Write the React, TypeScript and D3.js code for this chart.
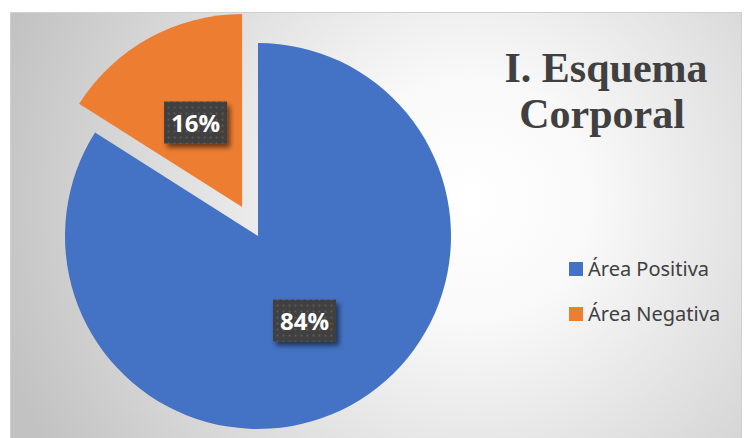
import React from "react";
import * as d3 from "d3";

const categories: string[] = ["Área Positiva", "Área Negativa"];
const values: number[] = [84, 16];
const titleLines: string[] = ["I. Esquema", "Corporal"];

const COLORS = ["#4472C4", "#ED7D31"];
const W = 747;
const H = 438;

if (typeof document !== "undefined") {
  document.body.style.margin = "0";
  document.body.style.overflow = "hidden";
}

export default function App() {
  const cx = 258;
  const cy = 236;
  const r = 193;
  const explodeDist = [0, 33];

  const pieGen = d3
    .pie<number>()
    .sort(null)
    .value((d) => d)
    .startAngle(0)
    .endAngle(2 * Math.PI);
  const arcs = pieGen(values);
  const arcGen = d3.arc<d3.PieArcDatum<number>>().innerRadius(0).outerRadius(r);
  const labelArc = d3.arc<d3.PieArcDatum<number>>().innerRadius(r * 0.5).outerRadius(r * 0.5);
  const total = d3.sum(values);

  const legendY = d3.scalePoint<string>().domain(categories).range([269, 314]);

  return (
    <svg width={W} height={H} style={{ display: "block" }}>
      <defs>
        <radialGradient id="bg" gradientUnits="userSpaceOnUse" cx={470} cy={200} r={490}>
          <stop offset="0" stopColor="#ffffff" />
          <stop offset="0.25" stopColor="#f9f9f9" />
          <stop offset="1" stopColor="#c2c2c2" />
        </radialGradient>
        <pattern id="dots" width={6} height={6} patternUnits="userSpaceOnUse">
          <rect width={6} height={6} fill="#3f3f3f" />
          <rect x={2} y={2} width={2} height={2} fill="#5a5a5a" />
        </pattern>
        <filter id="shadow" x="-30%" y="-30%" width="160%" height="180%">
          <feDropShadow dx={3} dy={4} stdDeviation={2.5} floodColor="#000" floodOpacity={0.55} />
        </filter>
        <clipPath id="chartClip">
          <rect x={10} y={12} width={732} height={430} />
        </clipPath>
      </defs>
      <rect x={0} y={0} width={W} height={H} fill="#ffffff" />
      <rect x={10.5} y={12.5} width={731} height={430} fill="url(#bg)" stroke="#d0d0d0" strokeWidth={1} />
      <g clipPath="url(#chartClip)">
        {arcs.map((a, i) => {
          const mid = (a.startAngle + a.endAngle) / 2;
          const dx = Math.sin(mid) * explodeDist[i];
          const dy = -Math.cos(mid) * explodeDist[i];
          return (
            <g key={categories[i]} transform={`translate(${cx + dx},${cy + dy})`}>
              <path d={arcGen(a) || ""} fill={COLORS[i]} />
            </g>
          );
        })}
        {arcs.map((a, i) => {
          const mid = (a.startAngle + a.endAngle) / 2;
          const dx = Math.sin(mid) * explodeDist[i];
          const dy = -Math.cos(mid) * explodeDist[i];
          const [lx, ly] = labelArc.centroid(a);
          const x = cx + dx + lx;
          const y = cy + dy + ly;
          const bw = 63;
          const bh = 42;
          return (
            <g key={"l" + i} transform={`translate(${x},${y})`}>
              <rect x={-bw / 2} y={-bh / 2} width={bw} height={bh} fill="url(#dots)" filter="url(#shadow)" />
              <text
                x={0}
                y={9}
                textAnchor="middle"
                fill="#ffffff"
                fontFamily="'Open Sans', sans-serif"
                fontWeight={700}
                fontSize={24}
              >
                {Math.round((values[i] / total) * 100) + "%"}
              </text>
            </g>
          );
        })}
      </g>
      <text
        textAnchor="middle"
        fill="#404040"
        fontFamily="'Liberation Serif', 'Times New Roman', serif"
        fontWeight={700}
        fontSize={42}
      >
        <tspan x={606} y={82}>{titleLines[0]}</tspan>
        <tspan x={602} y={128}>{titleLines[1]}</tspan>
      </text>
      {categories.map((c, i) => {
        const y = legendY(c) as number;
        return (
          <g key={"lg" + i}>
            <rect x={569} y={y - 7} width={14} height={14} fill={COLORS[i]} />
            <text
              x={588}
              y={y + 7}
              fill="#404040"
              fontFamily="'Noto Sans', sans-serif"
              fontSize={20}
            >
              {c}
            </text>
          </g>
        );
      })}
    </svg>
  );
}
